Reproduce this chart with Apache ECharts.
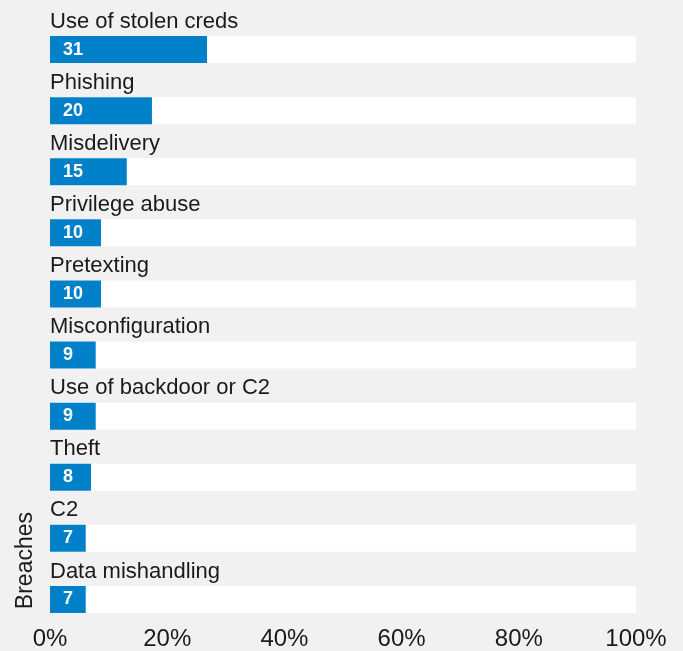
<!DOCTYPE html>
<html><head><meta charset="utf-8">
<script src="https://cdn.jsdelivr.net/npm/echarts@6/dist/echarts.min.js"></script>
<style>html,body{margin:0;padding:0;background:#f1f1f1}#c{width:683px;height:651px}</style>
</head><body><div id="c"></div>
<script>
const categories = ["Use of stolen creds","Phishing","Misdelivery","Privilege abuse","Pretexting","Misconfiguration","Use of backdoor or C2","Theft","C2","Data mishandling"];
const counts = [31,20,15,10,10,9,9,8,7,7];
const percents = [26.8,17.4,13.1,8.7,8.7,7.8,7.8,7.0,6.1,6.1];
const xTicks = [0,20,40,60,80,100];
const axisTitle = "Breaches";

const chart = echarts.init(document.getElementById('c'), null, {renderer:'canvas'});
chart.setOption({
  backgroundColor:'#f1f1f1',
  animation:false,
  grid:{left:50,right:47,top:19,bottom:21},
  xAxis:{type:'value',min:xTicks[0],max:xTicks[xTicks.length-1],interval:20,
    axisLine:{show:false},axisTick:{show:false},splitLine:{show:false},
    axisLabel:{formatter:'{value}%',fontSize:24,color:'#1a1a1a',margin:-3,fontFamily:'Liberation Sans, Arial, sans-serif'}},
  yAxis:{type:'category',data:categories,inverse:true,
    axisLine:{show:false},axisTick:{show:false},
    axisLabel:{inside:true,margin:0,align:'left',verticalAlign:'bottom',padding:[0,0,17,0],
      fontSize:22,color:'#1a1a1a',fontFamily:'Liberation Sans, Arial, sans-serif'},
    z:10},
  series:[{type:'bar',data:percents,barWidth:27,
    itemStyle:{color:'#0080c9'},
    showBackground:true,backgroundStyle:{color:'#ffffff'},
    label:{show:true,position:'insideLeft',distance:13,color:'#ffffff',fontSize:18,fontWeight:'bold',
      fontFamily:'Liberation Sans, Arial, sans-serif',
      formatter:p=>String(counts[p.dataIndex])}}],
  graphic:[{type:'text',left:14,top:512,rotation:Math.PI/2,
    style:{text:axisTitle,fontSize:23,fill:'#1a1a1a',fontFamily:'Liberation Sans, Arial, sans-serif'}}]
});
</script></body></html>
